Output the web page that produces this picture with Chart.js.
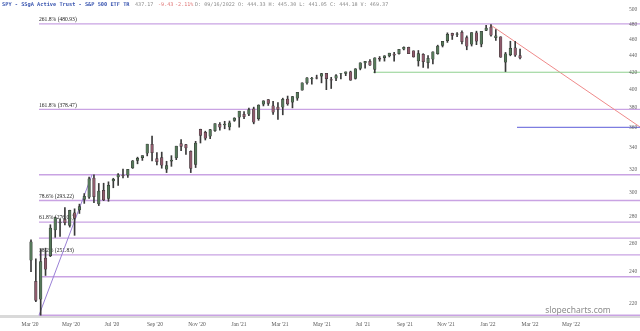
<!DOCTYPE html>
<html>
<head>
<meta charset="utf-8">
<script src="https://cdn.jsdelivr.net/npm/chart.js@4.4.1/dist/chart.umd.min.js"></script>
<style>
html, body { margin: 0; padding: 0; background: #fff; }
canvas { display: block; }
</style>
</head>
<body>
<canvas id="chart" width="640" height="331"></canvas>
<script>
// SPY weekly bars (dividend adjusted), week of Mar 9 2020 .. week of Feb 14 2022
const weekOpen = [248.1,233.5,222.4,249.2,251.2,270.0,275.4,277.8,273.5,282.9,
285.6,294.2,295.9,312.0,290.4,301.4,295.0,309.7,313.3,314.6,
314.8,321.3,328.0,330.7,334.8,343.0,329.6,330.3,320.1,327.5,
330.3,343.6,342.6,336.2,324.5,357.7,354.7,351.2,356.6,362.7,
362.3,360.3,366.9,370.4,373.0,373.4,378.7,368.8,384.2,388.8,
382.1,380.6,380.8,389.2,386.2,390.5,399.5,407.5,412.2,413.3,
415.3,418.4,411.3,413.2,418.5,418.5,420.2,412.7,424.4,431.0,
432.6,423.4,436.4,437.4,439.6,441.6,442.3,448.1,450.2,445.7,
433.4,441.3,431.5,435.7,442.4,452.7,458.7,468.1,467.0,469.3,
462.5,454.5,468.6,454.5,472.1,476.3,462.7,463.4,432.0,441.2,
449.5,439.9]
const weekHigh = [262.6,249.0,256.1,256.6,274.0,280.0,278.6,287.4,285.4,286.5,
290.3,299.0,313.1,315.2,307.6,307.8,309.0,312.1,316.2,320.3,
319.7,328.0,331.1,332.4,343.3,351.2,335.3,335.8,327.3,332.5,
341.4,347.9,343.3,337.0,346.1,358.1,356.1,357.9,363.6,364.7,
366.1,366.4,369.8,376.5,376.1,379.9,380.9,383.4,387.8,389.1,
387.1,385.8,390.6,392.9,392.5,396.8,407.7,413.8,414.2,416.6,
418.7,418.6,414.1,417.2,418.8,420.4,421.3,424.3,431.3,433.0,
435.1,437.4,438.9,440.0,443.0,444.2,447.8,451.1,450.6,446.0,
446.4,442.4,440.2,444.7,453.1,458.0,469.0,468.6,469.3,471.8,
465.0,469.3,471.2,470.9,479.0,479.98,473.2,463.9,444.0,458.1,
457.9,448.1]
const weekLow = [240.3,220.9,212.7,237.7,250.6,264.5,265.1,273.8,272.2,266.0,
282.8,290.9,294.9,291.4,289.1,293.1,292.6,303.9,306.0,312.4,
312.8,320.8,325.0,328.1,332.3,327.6,324.0,321.0,317.1,322.7,
328.8,337.2,333.6,317.1,321.6,344.5,347.4,348.8,355.8,357.1,
358.5,357.3,366.0,360.1,368.8,371.9,363.5,367.1,382.2,382.7,
373.3,368.0,372.8,382.9,380.1,388.2,399.4,406.2,406.2,412.2,
407.7,400.0,401.3,410.2,412.2,416.0,410.6,412.0,422.8,424.7,
428.1,419.3,433.2,433.3,438.4,433.3,441.9,447.1,442.5,438.1,
427.3,425.7,424.9,429.9,441.7,450.8,456.6,460.4,464.1,454.8,
447.3,452.0,453.7,451.0,472.0,464.6,459.0,437.9,420.8,439.8,
439.0,436.0]
const weekClose = [260.9,221.7,246.9,241.9,271.1,279.3,275.7,275.6,284.9,279.0,
287.9,296.5,311.2,296.4,300.7,293.7,305.6,310.9,314.9,314.1,
319.6,327.5,329.7,332.3,343.2,335.3,327.0,323.7,323.0,328.1,
341.3,341.3,339.9,320.9,344.2,351.9,349.2,357.4,363.5,360.0,
362.9,364.2,369.0,376.3,370.8,377.9,365.3,382.7,387.5,384.9,
375.5,378.6,389.0,384.4,392.1,396.7,407.5,413.2,412.6,413.2,
418.0,412.5,410.8,415.9,418.5,420.1,410.8,423.8,430.9,432.7,
428.5,437.0,435.7,439.6,443.0,440.5,447.4,450.2,442.5,438.5,
442.3,432.7,436.4,444.4,451.5,457.7,466.9,465.7,467.3,457.4,
451.8,469.1,458.3,470.6,474.96,466.1,464.7,437.98,441.95,448.7,
440.5,437.17]

// Fibonacci extension drawn from the Mar 2020 low to the Jun 2020 high
const fibPct = ['261.8','161.8','100','78.6','61.8','50','38.2','23.6','0']
const fibPrice = [480.93,378.47,315.15,293.22,276.01,263.92,251.83,236.87,212.69]
const fibShowLabel = [true,true,false,true,true,false,true,false,false]
const fibAnchorDay = [0, 53]        // trading days after the Mar 23 2020 low
const fibAnchorPrice = [212.69, 315.15]

// drawn trend line and horizontal levels
const trendDay = [451, 601]
const trendPrice = [479.98, 360.3]
const supportDay = [334, 601]
const supportPrice = 420
const targetDay = [478, 601]
const targetPrice = 360

// axes (x axis counts trading days from the Mar 23 2020 low)
const monthDays = [-9,32,73,116,158,200,241,283,324,366,407,449,491,532]
const monthLabels = ["Mar '20","May '20","Jul '20","Sep '20","Nov '20","Jan '21","Mar '21","May '21","Jul '21","Sep '21","Nov '21","Jan '22","Mar '22","May '22"]
const priceTicks = [220,240,260,280,300,320,340,360,380,400,420,440,460,480,500]

const dayOfWeek = weekClose.map((c, i) => i * 4.842 - 8)
const isUp = weekClose.map((c, i) => c >= weekOpen[i])

const wicks = weekClose.map((c, i) => ({ x: dayOfWeek[i], y: [weekLow[i], weekHigh[i]] }))
const bodies = weekClose.map((c, i) => ({ x: dayOfWeek[i], y: [Math.min(c, weekOpen[i]), Math.max(c, weekOpen[i]) + 0.3] }))

function seg(x0, y0, x1, y1, color, width, order) {
  return {
    type: 'line',
    data: [{ x: x0, y: y0 }, { x: x1, y: y1 }],
    borderColor: color,
    borderWidth: width,
    pointRadius: 0,
    fill: false,
    order: order
  }
}

const fibLines = fibPrice.map(p => seg(0, p, 601, p, '#c9a3e3', 1.4, 3))

const textPlugin = {
  id: 'texts',
  beforeDatasetsDraw(chart) {
    const ctx = chart.ctx
    const xs = chart.scales.x, ys = chart.scales.y
    ctx.save()
    ctx.font = '5.6px "Liberation Serif"'
    ctx.fillStyle = '#222'
    ctx.textBaseline = 'bottom'
    ctx.textAlign = 'left'
    fibPrice.forEach((p, i) => {
      if (!fibShowLabel[i]) return
      ctx.fillText(fibPct[i] + '% (' + p.toFixed(2) + ')', xs.getPixelForValue(0), ys.getPixelForValue(p) - 1.5)
    })
    ctx.restore()
  },
  afterDraw(chart) {
    const ctx = chart.ctx
    const ys = chart.scales.y
    ctx.save()
    // right price axis labels
    ctx.font = '5.5px "Liberation Serif"'
    ctx.fillStyle = '#666'
    ctx.textAlign = 'center'
    ctx.textBaseline = 'middle'
    priceTicks.forEach(v => ctx.fillText(String(v), 633, ys.getPixelForValue(v)))
    // header
    ctx.textAlign = 'left'
    ctx.font = 'bold 5.3px "DejaVu Sans Mono"'
    ctx.fillStyle = '#3a56b0'
    ctx.fillText('SPY - SSgA Active Trust - S&P 500 ETF TR', 2, 5)
    ctx.font = '5.1px "DejaVu Sans Mono"'
    ctx.fillStyle = '#8a8a8a'
    ctx.fillText('437.17', 135, 5)
    ctx.fillStyle = '#e07575'
    ctx.fillText('-9.43', 158, 5)
    ctx.fillText('-2.11%', 175, 5)
    ctx.fillStyle = '#8a8a8a'
    ctx.fillText('D: 09/16/2022 O: 444.33 H: 445.30 L: 441.05 C: 444.18 V: 469.37', 195, 5)
    // watermark
    ctx.font = '8.5px "Noto Sans"'
    ctx.fillStyle = '#8c8c8c'
    ctx.textAlign = 'center'
    ctx.fillText('slopecharts.com', 578, 311)
    ctx.restore()
  }
}

new Chart(document.getElementById('chart'), {
  type: 'bar',
  data: {
    datasets: [
      {
        data: bodies,
        backgroundColor: isUp.map(u => u ? '#56785a' : '#8f5b6c'),
        borderColor: '#2e2e2e',
        borderWidth: 0.5,
        borderSkipped: false,
        barThickness: 2.6,
        grouped: false,
        order: 0
      },
      {
        data: wicks,
        backgroundColor: '#3a3a3a',
        barThickness: 1,
        grouped: false,
        order: 1
      },
      ...fibLines,
      seg(fibAnchorDay[0], fibAnchorPrice[0], fibAnchorDay[1], fibAnchorPrice[1], '#9a80d6', 1, 2),
      seg(supportDay[0], supportPrice, supportDay[1], supportPrice, '#8fd08f', 1, 2),
      seg(targetDay[0], targetPrice, targetDay[1], targetPrice, '#7d7de0', 1.2, 2),
      seg(trendDay[0], trendPrice[0], trendDay[1], trendPrice[1], '#ef8a8a', 1, 2)
    ]
  },
  options: {
    responsive: false,
    animation: false,
    devicePixelRatio: 1,
    layout: { padding: 0 },
    plugins: { legend: { display: false }, tooltip: { enabled: false }, title: { display: false } },
    scales: {
      x: {
        type: 'linear',
        min: -39,
        max: 601,
        offset: false,
        grid: { display: false, drawTicks: false },
        border: { color: '#d9d9d9', width: 3 },
        ticks: {
          autoSkip: false,
          maxRotation: 0,
          padding: 5,
          color: '#555',
          font: { family: 'Liberation Serif', size: 5.5 },
          callback: (v, i) => monthLabels[i]
        },
        afterBuildTicks: s => { s.ticks = monthDays.map(v => ({ value: v })) },
        afterFit: s => { s.height = 15 }
      },
      y: {
        type: 'logarithmic',
        position: 'right',
        min: 212.2,
        max: 514.2,
        grid: { display: false },
        border: { display: false },
        ticks: { display: false },
        afterBuildTicks: s => { s.ticks = priceTicks.map(v => ({ value: v })) },
        afterFit: s => { s.width = 0 }
      }
    }
  },
  plugins: [textPlugin]
})
</script>
</body>
</html>
